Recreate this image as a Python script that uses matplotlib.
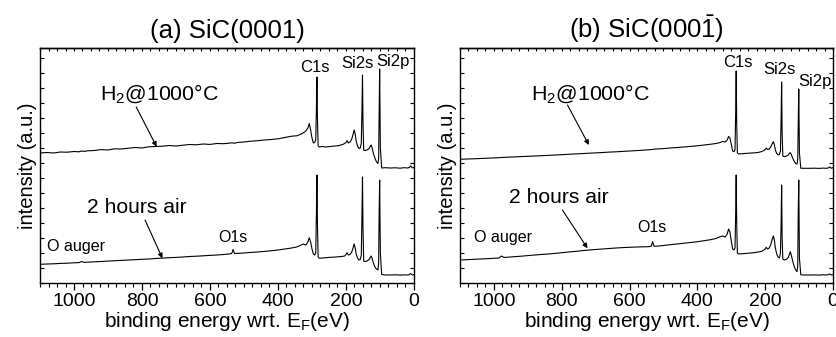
import numpy as np
import matplotlib
matplotlib.use("Agg")
import matplotlib.pyplot as plt
from matplotlib.ticker import MultipleLocator

plt.rcParams["font.family"] = ["Liberation Sans", "DejaVu Sans"]
plt.rcParams["mathtext.fontset"] = "custom"
plt.rcParams["mathtext.rm"] = "Liberation Sans"
plt.rcParams["mathtext.it"] = "Liberation Sans:italic"
plt.rcParams["mathtext.bf"] = "Liberation Sans:bold"

# ---- data (binding energy grid in eV, intensities in arbitrary units) ----
energy = [1100, 1080, 1060, 1040, 1020, 1000, 985, 978, 970, 960,
          940, 920, 900, 880, 860, 840, 820, 800, 780, 760,
          740, 720, 700, 680, 660, 640, 620, 600, 580, 560,
          545, 536, 532, 528, 520, 500, 480, 460, 440, 420,
          400, 380, 360, 345, 335, 326, 318, 312, 308, 304,
          300, 296, 292, 289, 287, 285.5, 284, 282, 278, 270,
          260, 250, 240, 230, 220, 210, 204, 200, 197, 193,
          188, 183, 179, 176, 173, 170, 166, 162, 158, 155,
          153, 151.5, 150, 148, 144, 138, 132, 128, 126, 123,
          119, 114, 110, 106, 104, 102.5, 101, 99, 95, 85,
          70, 55, 40, 30, 20, 14, 10, 6, 3, 0]

a_h2 = [130, 130.5, 130, 131, 130.8, 131.5, 131.2, 132, 131.6, 132.2,
        132.5, 133.4, 133, 134.2, 134, 134.8, 135.5, 135, 136.2, 136.5,
        136.8, 137.5, 137, 137.8, 138.5, 138.2, 139, 138.6, 139.5, 139.3,
        139.8, 140.2, 140, 139.7, 140.5, 141, 141.8, 142.3, 143, 143.5,
        144.2, 145.5, 146.8, 147.2, 148.5, 150, 152, 155, 159.5, 153,
        145, 140, 141, 143, 175, 206, 165, 137, 136, 136.5,
        136, 136.3, 136.8, 137, 137.5, 138.5, 139.5, 140.5, 142.3, 140,
        141, 144, 149, 153, 149, 142, 137, 134.5, 135, 140,
        175, 208, 160, 133, 132.5, 133, 134.5, 137, 138, 135,
        129, 124, 121, 119.5, 125, 170, 214, 135, 115, 115.3,
        115, 115.2, 114.8, 115.3, 115, 115.5, 117, 115.5, 115, 116]

a_air = [18.7, 19, 19.2, 19.6, 19.8, 20.2, 20.4, 21.5, 20.6, 20.8,
         21.2, 21.5, 21.9, 22.3, 22.6, 23, 23.3, 23.7, 24, 24.5,
         24.9, 25.3, 25.6, 26, 26.5, 26.8, 27.2, 27.6, 28, 28.5,
         29, 29.5, 33.5, 29.5, 29.6, 30, 30.6, 31, 31.6, 32.2,
         33, 34, 35, 36, 37.5, 39, 38, 41, 45.3, 41,
         34, 29, 28, 30, 70, 108, 60, 26, 24.7, 25,
         25.3, 25.6, 25.8, 26, 26.3, 26.6, 27, 28.5, 30.3, 28,
         28.5, 31, 35.5, 39, 35, 29, 25, 23, 23.5, 28,
         70, 106, 55, 22, 21.5, 22, 23.5, 26, 27, 24.5,
         19.5, 15.5, 14, 13, 20, 70, 103, 30, 8.5, 8,
         8, 8.2, 7.9, 8.1, 8, 8.3, 9.5, 8.3, 8, 8.5]

b_h2 = [123.7, 124, 124.2, 124.5, 124.8, 125.1, 125.3, 125.5, 125.6, 125.8,
        126.1, 126.4, 126.7, 127, 127.3, 127.6, 128, 128.3, 128.7, 129.1,
        129.4, 129.8, 130.1, 130.5, 130.9, 131.2, 131.6, 132, 132.4, 132.8,
        133.2, 133.4, 133.6, 133.8, 134, 134.4, 135, 135.5, 136, 136.6,
        137.2, 138, 138.8, 139.5, 140.3, 141.5, 141, 143, 146.5, 145,
        139, 132, 131.3, 133, 170, 212, 160, 130, 129, 129.3,
        129.5, 129.8, 130, 130.2, 130.6, 131.5, 132.5, 133.5, 135, 133.5,
        134, 136.5, 139.5, 141.3, 138.5, 133, 129.5, 128, 128.5, 132,
        165, 201, 150, 127, 126.3, 126.8, 128, 130, 130.3, 128.5,
        125, 121.5, 119.5, 119, 124, 160, 194, 130, 114.8, 114.7,
        114.7, 114.8, 114.6, 114.9, 114.7, 115, 116, 115, 114.8, 115.5]

b_air = [23, 23.3, 23.7, 24, 24.3, 24.7, 25, 27, 25.5, 25.8,
         26.3, 26.8, 27.4, 28, 28.5, 29, 29.6, 30.3, 31, 31.6,
         32.3, 33, 33.5, 34, 34.5, 35, 35.4, 35.7, 36, 36.2,
         36.3, 36.8, 41.3, 36.8, 36.8, 37.5, 38.3, 39, 39.8, 40.5,
         41.3, 42.3, 43.4, 44.5, 46, 47, 46, 49, 54, 51,
         42, 34, 33, 35, 70, 108, 60, 30, 29, 29.2,
         29.5, 29.8, 30.1, 30.5, 31, 31.8, 33, 34, 35.7, 34,
         35, 39, 44, 47, 43, 35, 29, 26, 25, 30,
         60, 98, 45, 24, 23, 23.5, 25.5, 29, 31.3, 28,
         22, 16, 13, 11.3, 17, 70, 103, 25, 8.2, 8,
         8, 8.1, 7.9, 8.2, 8, 8.3, 9, 8.2, 8, 8.6]

titles = ["(a) SiC(0001)", r"(b) SiC(000$\bar{1}$)"]
peak_labels = ["C1s", "Si2s", "Si2p"]
xlabel = r"binding energy wrt. E$_\mathrm{F}$(eV)"
ylabel = "intensity (a.u.)"

# ---- layout ----
W, H = 837, 337
fig = plt.figure(figsize=(W / 100, H / 100), dpi=100)
axA = fig.add_axes([40 / W, 1 - 283 / H, 374 / W, 235 / H])
axB = fig.add_axes([460 / W, 1 - 283 / H, 373 / W, 235 / H])

panels = [
    dict(ax=axA, h2=a_h2, air=a_air, title=titles[0],
         peaks=[(291, 211.3), (166, 214.7), (63, 217)],
         h2_txt=(925, 183), h2_arrow=((817, 176), (757, 136.3)),
         air_txt=(962, 70.3), air_arrow=((791, 63), (740, 24.7)),
         auger=(1079, 32.3), o1s=(534, 41.3)),
    dict(ax=axB, h2=b_h2, air=b_air, title=titles[1],
         peaks=[(281, 216.3), (159, 209), (53, 197)],
         h2_txt=(891, 183), h2_arrow=((783, 178), (720, 138)),
         air_txt=(956, 79.7), air_arrow=((798, 73), (724, 34.7)),
         auger=(1059, 41.3), o1s=(535, 50.7)),
]

for p in panels:
    ax = p["ax"]
    ax.plot(energy, p["h2"], color="black", lw=0.8)
    ax.plot(energy, p["air"], color="black", lw=0.8)
    ax.set_xlim(1100, 0)
    ax.set_ylim(0, 235)
    for s in ax.spines.values():
        s.set_linewidth(1.0)
    ax.xaxis.set_major_locator(MultipleLocator(200))
    ax.xaxis.set_minor_locator(MultipleLocator(25))
    ax.yaxis.set_major_locator(MultipleLocator(15))
    ax.tick_params(axis="x", which="major", direction="out", length=5,
                   width=0.9, labelsize=14, pad=2)
    ax.tick_params(axis="x", which="minor", direction="out", length=3, width=0.8)
    ax.tick_params(axis="y", which="major", direction="in", length=3, width=0.8,
                   left=True, right=True, labelleft=False)
    top = ax.secondary_xaxis("top")
    top.xaxis.set_major_locator(MultipleLocator(200))
    top.xaxis.set_minor_locator(MultipleLocator(25))
    top.tick_params(axis="x", which="both", direction="in", length=2.5,
                    width=0.8, labeltop=False)
    top.spines["top"].set_linewidth(1.0)

    ax.set_title(p["title"], fontsize=18.5, pad=7)
    ax.set_xlabel(xlabel, fontsize=15, labelpad=0)
    ax.set_ylabel(ylabel, fontsize=14.5, labelpad=2)

    for lbl, (x, y) in zip(peak_labels, p["peaks"]):
        ax.text(x, y, lbl, fontsize=12, ha="center", va="baseline")
    ax.text(*p["h2_txt"], r"H$_2$@1000°C", fontsize=15.4, ha="left", va="baseline")
    ax.text(*p["air_txt"], "2 hours air", fontsize=15.2, ha="left", va="baseline")
    ax.text(*p["auger"], "O auger", fontsize=11.6, ha="left", va="baseline")
    ax.text(*p["o1s"], "O1s", fontsize=11.4, ha="center", va="baseline")
    for (start, end) in (p["h2_arrow"], p["air_arrow"]):
        ax.annotate("", xy=end, xytext=start,
                    arrowprops=dict(arrowstyle="-|>", color="black", lw=0.8,
                                    mutation_scale=7, shrinkA=0, shrinkB=0))

fig.savefig("out.png", dpi=100)
